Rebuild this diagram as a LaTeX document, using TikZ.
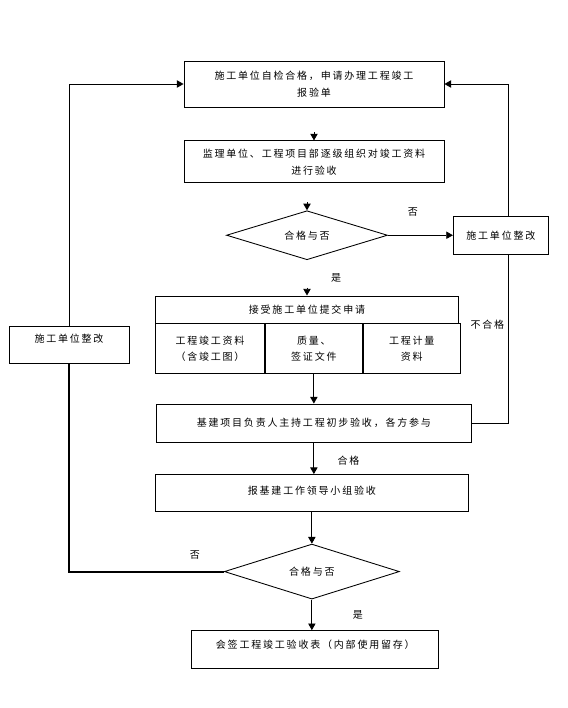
\documentclass[tikz,border=0pt]{standalone}
\usepackage{fontspec}
\setmainfont[LetterSpace=18]{Noto Sans CJK SC}
\usetikzlibrary{arrows.meta,positioning,shapes.geometric}

\begin{document}
\begin{tikzpicture}[x=0.75pt,y=-0.75pt,
  font=\fontsize{7.5pt}{12.5pt}\selectfont,
  box/.style={draw,line width=0.65pt,inner sep=0pt,align=center},
  choice/.style={draw,diamond,aspect=3.3,line width=0.65pt,inner sep=0pt,align=center},
  tip/.style={-{Triangle[length=5pt,width=5.5pt]},line width=0.65pt},
  lab/.style={inner sep=0pt}]
  \useasboundingbox (0,0) rectangle (568,708);
  \node[box,minimum width=195pt,minimum height=34.5pt] (apply) at (314,84) {施工单位自检合格，申请办理工程竣工\\报验单};
  \node[box,minimum width=195pt,minimum height=31.5pt,below=24.75pt of apply] (check) {监理单位、工程项目部逐级组织对竣工资料\\进行验收};
  \node[choice,minimum width=120.75pt,minimum height=36.75pt,below=20.25pt of check,xshift=-5.25pt] (ok1) {合格与否};
  \node[box,minimum width=71.25pt,minimum height=28.5pt,right=48.75pt of ok1] (fix1) {施工单位整改};
  \node[box,minimum width=227.25pt,minimum height=20.25pt,below=26.5pt of ok1] (accept) {接受施工单位提交申请};
  \node[box,minimum width=81.75pt,minimum height=37.5pt,below right=0pt and 0pt of accept.south west] (doc1) {工程竣工资料\\（含竣工图）};
  \node[box,minimum width=72.75pt,minimum height=37.5pt,right=0pt of doc1] (doc2) {质量、\\签证文件};
  \node[box,minimum width=72.75pt,minimum height=37.5pt,right=0pt of doc2] (doc3) {工程计量\\资料};
  \node[box,minimum width=236.25pt,minimum height=28.5pt,below=22pt of doc2] (init) {基建项目负责人主持工程初步验收，各方参与};
  \node[box,minimum width=234.75pt,minimum height=27.75pt,below=23.75pt of init,xshift=-1.5pt,text depth=4pt] (leader) {报基建工作领导小组验收};
  \node[choice,minimum width=131.25pt,minimum height=41.25pt,below=23.75pt of leader] (ok2) {合格与否};
  \node[box,minimum width=185.25pt,minimum height=28.5pt,below=23pt of ok2,xshift=2.6pt,text depth=8pt] (sign) {会签工程竣工验收表（内部使用留存）};
  \node[box,minimum width=90pt,minimum height=27.75pt,text depth=9pt] (fix2) at (69,344.5) {施工单位整改};
  % main column
  \draw[tip] ([yshift=6pt]check.north) -- (check.north);
  \draw[tip] ([yshift=6pt]ok1.north) -- (ok1.north);
  \draw[tip] (ok1.east) -- (fix1.west) node[lab,pos=0.385,yshift=17.25pt] {否};
  \draw[tip] ([yshift=6pt]accept.north) -- (accept.north);
  \node[lab] (yes1) at (336,278) {是};
  \draw[tip] (doc2.south) -- (init.north);
  \draw[tip] (init.south) -- (init.south |- leader.north) node[lab,midway,xshift=26pt,yshift=-2pt] {合格};
  \draw[tip] (ok2.north |- leader.south) -- (ok2.north);
  \draw[tip] (ok2.south) -- (ok2.south |- sign.north) node[lab,midway,xshift=34.5pt] {是};
  % loops back
  \draw[tip] ([xshift=5.6pt]fix1.north) |- (apply.east);
  \draw[line width=0.65pt] ([xshift=5.6pt]fix1.south) |- (init.east) node[lab,pos=0.207,xshift=-15.75pt] {不合格};
  \draw[line width=1.5pt] (ok2.west) -| (fix2.south) node[lab,pos=0.094,yshift=12.75pt] {否};
  \draw[tip] (fix2.north) |- (apply.west);
\end{tikzpicture}
\end{document}
